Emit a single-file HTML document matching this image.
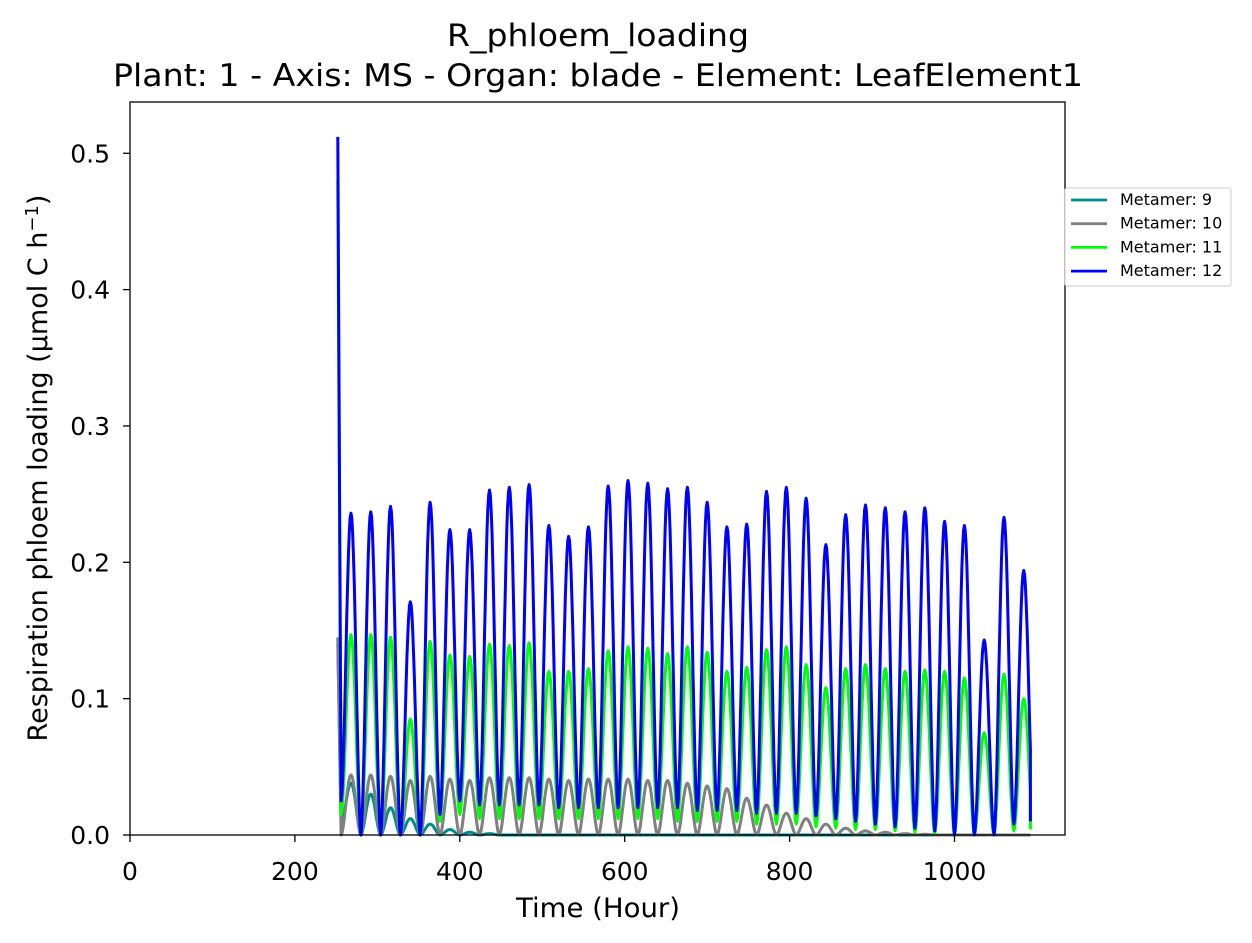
<!DOCTYPE html>
<html><head><meta charset="utf-8">
<style>
body{margin:0;background:#fff;}
svg{display:block;font-family:"DejaVu Sans","Liberation Sans",sans-serif;}
</style></head>
<body>
<svg id="chart" width="1252" height="943" viewBox="0 0 1252 943" xmlns="http://www.w3.org/2000/svg">
<rect width="1252" height="943" fill="#fff"/>
<text x="598" y="46" font-size="31" text-anchor="middle" textLength="302" lengthAdjust="spacingAndGlyphs">R_phloem_loading</text>
<text x="598" y="86" font-size="31" text-anchor="middle" textLength="970" lengthAdjust="spacingAndGlyphs">Plant: 1 - Axis: MS - Organ: blade - Element: LeafElement1</text>
<g id="plot"></g>
<rect x="130" y="102" width="935" height="733" fill="none" stroke="#000" stroke-width="1.3"/>
<g id="xticks"></g>
<g id="yticks"></g>
<text x="598" y="917" font-size="27" text-anchor="middle" textLength="164" lengthAdjust="spacingAndGlyphs">Time (Hour)</text>
<text transform="translate(47,468) rotate(-90)" font-size="27" text-anchor="middle">Respiration phloem loading (µmol C h<tspan dy="-9" font-size="18">−1</tspan><tspan dy="9">)</tspan></text>
<g>
<rect x="1065" y="188" width="166" height="98" fill="#fff" stroke="#ccc" stroke-width="1" rx="2"/>
<g id="legend"></g>
</g>
</svg>
<script>
const seriesNames = ["Metamer: 9","Metamer: 10","Metamer: 11","Metamer: 12"];
const seriesColors = ["#008b8b","#808080","#00ff00","#0000ff"];
const xTicks = [0,200,400,600,800,1000];
const yTicks = [0.0,0.1,0.2,0.3,0.4,0.5];
const startHour = 252, endHour = 1092, firstPeakHour = 268, period = 24;
const startVals = [0.14, 0.145, 0.48, 0.512];
const endVals = [0, 0, 0.004, 0.01];
const peaks9 = [0.038,0.030,0.020,0.012,0.008,0.004,0.002,0.001,0,0,0,0,0,0,0,0,0,0,0,0,0,0,0,0,0,0,0,0,0,0,0,0,0,0,0];
const peaks10 = [0.044,0.044,0.043,0.040,0.043,0.041,0.040,0.042,0.042,0.042,0.041,0.040,0.041,0.041,0.041,0.040,0.040,0.038,0.036,0.034,0.027,0.022,0.016,0.012,0.008,0.005,0.003,0.002,0.001,0.0005,0,0,0,0,0];
const peaks11 = [0.147,0.147,0.145,0.085,0.142,0.132,0.131,0.140,0.139,0.141,0.120,0.120,0.122,0.135,0.138,0.137,0.133,0.138,0.134,0.120,0.123,0.136,0.138,0.125,0.108,0.122,0.125,0.122,0.120,0.121,0.120,0.115,0.075,0.118,0.100];
const peaks12 = [0.236,0.237,0.241,0.171,0.244,0.224,0.224,0.253,0.255,0.257,0.227,0.219,0.226,0.256,0.260,0.258,0.254,0.255,0.244,0.226,0.228,0.252,0.255,0.247,0.213,0.235,0.242,0.240,0.237,0.240,0.230,0.227,0.143,0.233,0.194];
const troughs9 = [0.01,0,0,0,0,0,0,0,0,0,0,0,0,0,0,0,0,0,0,0,0,0,0,0,0,0,0,0,0,0,0,0,0,0,0,0];
const troughs10 = [0,0,0,0,0,0,0,0,0,0,0,0,0,0,0,0,0,0,0,0,0,0,0,0,0,0,0,0,0,0,0,0,0,0,0,0];
const troughs11 = [0.015,0,0,0,0,0.01,0.015,0.012,0.012,0.012,0.012,0.012,0.012,0.012,0.012,0.012,0.012,0.01,0.01,0.01,0.01,0.008,0.008,0.008,0.006,0.005,0.004,0.004,0.003,0.002,0.001,0,0,0,0.003,0.004];
const troughs12 = [0.025,0,0,0,0,0.015,0.025,0.022,0.022,0.022,0.022,0.02,0.02,0.02,0.02,0.02,0.02,0.02,0.018,0.018,0.018,0.016,0.016,0.016,0.014,0.012,0.01,0.008,0.006,0.005,0.003,0,0,0,0.008,0.01];
const allPeaks = [peaks9, peaks10, peaks11, peaks12];
const allTroughs = [troughs9, troughs10, troughs11, troughs12];

const X0=130, X1=1065, Y0=835, Y1=102, XMAX=1134, YMAX=0.5376;
const xs = h => X0 + h/XMAX*(X1-X0);
const ys = v => Y0 - v/YMAX*(Y0-Y1);
const NS="http://www.w3.org/2000/svg";
function mk(tag, attrs, parent){const e=document.createElementNS(NS,tag);for(const k in attrs)e.setAttribute(k,attrs[k]);if(parent)parent.appendChild(e);return e;}

const plot=document.getElementById('plot');
for(let s=0;s<4;s++){
  const pk=allPeaks[s], tr=allTroughs[s];
  const pts=[[startHour,startVals[s]],[firstPeakHour-period/2,tr[0]]];
  for(let i=0;i<pk.length;i++){
    const a=firstPeakHour-period/2+i*period;
    for(let j=1;j<=24;j++){
      const t=a+j*period/24; if(t>endHour)break;
      const ph=j/24;
      const base=tr[i]+(tr[i+1]-tr[i])*ph;
      const f=Math.pow(Math.sin(Math.PI*ph),1.8);
      pts.push([t, base+(pk[i]-base)*f]);
    }
  }
  pts.push([endHour,endVals[s]]);
  const d=pts.map((p,i)=>(i?'L':'M')+xs(p[0]).toFixed(1)+' '+ys(Math.max(0,p[1])).toFixed(1)).join(' ');
  const path=mk('path',{d:d,fill:'none',stroke:seriesColors[s],'stroke-width':3,'stroke-linejoin':'round'},plot);
  
  
}

const xg=document.getElementById('xticks');
xTicks.forEach(v=>{
  mk('line',{x1:xs(v),x2:xs(v),y1:Y0,y2:Y0+7,stroke:'#000','stroke-width':1.3},xg);
  const t=mk('text',{x:xs(v),y:Y0+45,'font-size':25,'text-anchor':'middle'},xg);
  t.textContent=v;
  
  
});
const yg=document.getElementById('yticks');
yTicks.forEach(v=>{
  mk('line',{x1:X0-7,x2:X0,y1:ys(v),y2:ys(v),stroke:'#000','stroke-width':1.3},yg);
  const t=mk('text',{x:X0-20,y:ys(v)+9,'font-size':25,'text-anchor':'end'},yg);
  t.textContent=v.toFixed(1);
  
  
});
const lg=document.getElementById('legend');
seriesNames.forEach((n,i)=>{
  const y=200+i*23.7;
  mk('line',{x1:1071,x2:1107,y1:y,y2:y,stroke:seriesColors[i],'stroke-width':2.8},lg);
  const t=mk('text',{x:1120,y:y+5,'font-size':16},lg);
  t.textContent=n;
  
  
});
</script>
</body></html>
